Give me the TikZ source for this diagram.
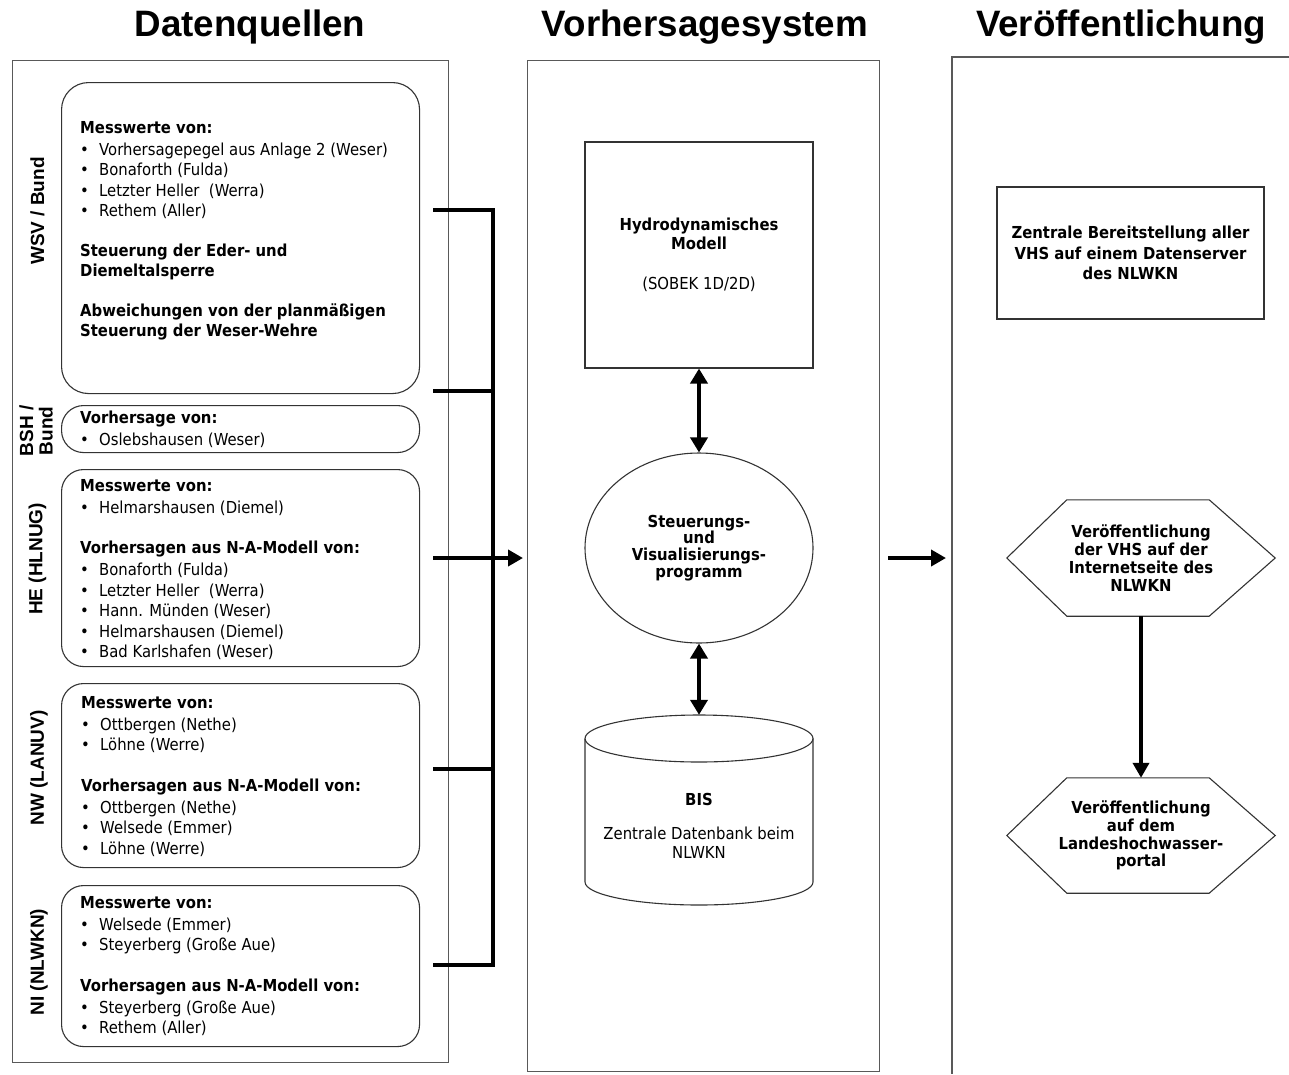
\documentclass[tikz,border=0pt]{standalone}
\usepackage{fontspec}
\usetikzlibrary{arrows.meta,shapes.geometric,calc}
\newfontfamily\bodyfam{DejaVu Sans}[FakeStretch=0.9]
\newfontfamily\headfam{Liberation Sans}
\newcommand\bodyf{\bodyfam\fontsize{16.5}{20.5}\selectfont}
\newcommand\hexf{\bodyfam\bfseries\fontsize{16.5}{17.8}\selectfont}
\newcommand\circf{\bodyfam\bfseries\fontsize{16.5}{16.8}\selectfont}
\newcommand\headf{\headfam\bfseries\fontsize{36.75}{40}\selectfont}
\newcommand\lblf{\headfam\bfseries\fontsize{19}{19.5}\selectfont}
\newcommand\itm{\makebox[19pt][l]{•}}
\newcommand\hd[1]{\textbf{#1}\\[1.5pt]}
\begin{document}
\begin{tikzpicture}[x=1pt,y=-1pt,
  panel/.style={draw=black!65, line width=1.2pt},
  box/.style={draw=black!80, line width=1.1pt},
  rbox/.style={box, rounded corners=22pt, anchor=north west, minimum width=358pt, inner sep=0pt},
  conn/.style={line width=3.8pt, -{Triangle[width=16pt,length=15pt]}},
  dconn/.style={line width=3.8pt, {Triangle[width=17pt,length=15pt]}-{Triangle[width=17pt,length=15pt]}},
  bracket/.style={line width=4pt, line join=miter},
  head/.style={font=\headf, anchor=base, inner sep=0pt},
  lbl/.style={font=\lblf, rotate=90, inner sep=0pt},
  btxt/.style={anchor=base west, inner sep=0pt, font=\bodyf},
]
\useasboundingbox (0,0) rectangle (1289,1074);

% headers
\node[head] (h1) at (250,36) {Datenquellen};
\node[head] (h2) at (705,36) {Vorhersagesystem};
\node[head] (h3) at (1121,36) {Veröffentlichung};

% panels
\node[panel, anchor=north west, minimum width=436pt, minimum height=1002pt, inner sep=0pt] (src) at (12,60) {};
\node[panel, anchor=north west, minimum width=352pt, minimum height=1011pt, inner sep=0pt] (mid) at (527,60) {};
\coordinate (pubtl) at (952,57);
\draw[panel] (1289,57) -- (pubtl) -- (952,1074);

% source boxes
\node[rbox, rounded corners=27pt, minimum height=311pt] (wsv) at (61,82) {};
\node[rbox, minimum height=47pt] (bsh) at (61,405) {};
\node[rbox, minimum height=197pt] (he) at (61,469) {};
\node[rbox, minimum height=184pt] (nw) at (61,683) {};
\node[rbox, minimum height=161pt] (ni) at (61,885) {};

% source labels
\node[lbl] (lwsv) at (37.5,211) {WSV / Bund};
\node[lbl, align=center] (lbsh) at (36,431) {BSH /\\Bund};
\node[lbl] (lhe) at (37.5,559) {HE (HLNUG)};
\node[lbl] (lnw) at (39,768) {NW (LANUV)};
\node[lbl] (lni) at (39,962) {NI (NLWKN)};

% source texts
\node[btxt] (twsv) at (80,133) {\parbox[t]{330pt}{\raggedright
  \hd{Messwerte von:}
  \itm Vorhersagepegel aus Anlage 2 (Weser)\\
  \itm Bonaforth (Fulda)\\
  \itm Letzter Heller~ (Werra)\\
  \itm Rethem (Aller)\\[19pt]
  \textbf{Steuerung der Eder- und}\\
  \textbf{Diemeltalsperre}\\[19pt]
  \textbf{Abweichungen von der planmäßigen}\\
  \textbf{Steuerung der Weser-Wehre}}};
\node[btxt] (tbsh) at (80,423) {\parbox[t]{330pt}{\raggedright
  \hd{Vorhersage von:}
  \itm Oslebshausen (Weser)}};
\node[btxt] (the) at (80,491) {\parbox[t]{330pt}{\raggedright
  \hd{Messwerte von:}
  \itm Helmarshausen (Diemel)\\[20pt]
  \hd{Vorhersagen aus N-A-Modell von:}
  \itm Bonaforth (Fulda)\\
  \itm Letzter Heller~ (Werra)\\
  \itm Hann. Münden (Weser)\\
  \itm Helmarshausen (Diemel)\\
  \itm Bad Karlshafen (Weser)}};
\node[btxt] (tnw) at (81,708) {\parbox[t]{330pt}{\raggedright
  \hd{Messwerte von:}
  \itm Ottbergen (Nethe)\\
  \itm Löhne (Werre)\\[20pt]
  \hd{Vorhersagen aus N-A-Modell von:}
  \itm Ottbergen (Nethe)\\
  \itm Welsede (Emmer)\\
  \itm Löhne (Werre)}};
\node[btxt] (tni) at (80,908) {\parbox[t]{330pt}{\raggedright
  \hd{Messwerte von:}
  \itm Welsede (Emmer)\\
  \itm Steyerberg (Große Aue)\\[20pt]
  \hd{Vorhersagen aus N-A-Modell von:}
  \itm Steyerberg (Große Aue)\\
  \itm Rethem (Aller)}};

% bracket
\coordinate (b1) at (433,210);
\coordinate (b2) at (433,391);
\coordinate (b3) at (433,558);
\coordinate (b4) at (433,769);
\coordinate (b5) at (433,965);
\coordinate (bv) at (493,558);
\draw[bracket] (b1) -- (b1 -| bv) -- (b5 -| bv) -- (b5);
\draw[bracket] (b2) -- (b2 -| bv);
\draw[bracket] (b4) -- (b4 -| bv);
\draw[conn, line width=4pt] (b3) -- ([xshift=-4pt]b3 -| mid.west);

% middle system
\node[box, minimum width=228pt, minimum height=226pt, inner sep=0pt, align=center, font=\bodyf]
  (hyd) at (699,255) {\textbf{Hydrodynamisches}\\[-1.5pt]\textbf{Modell}\\[19pt](SOBEK 1D/2D)};
\node[box, ellipse, minimum width=228pt, minimum height=190pt, inner sep=0pt, align=center, font=\circf]
  (ctl) at (699,548) {Steuerungs-\\und\\Visualisierungs-\\programm};
\node[minimum width=228pt, minimum height=190pt, inner sep=0pt] (bis) at (699,810) {};
\draw[box] (699,738.5) ellipse [x radius=114pt, y radius=23.5pt];
\draw[box] (585,738.5) -- (585,882) arc[start angle=180, end angle=360, x radius=114pt, y radius=23pt] -- (813,738.5);
\node[align=center, font=\bodyf, inner sep=0pt] (bistxt) at (699,826)
  {\textbf{BIS}\\[13pt]Zentrale Datenbank beim\\[-1pt]NLWKN};
\draw[dconn] (hyd.south) -- (ctl.north);
\draw[dconn] (ctl.south) -- (bis.north);

% arrow to publication
\draw[conn] ([xshift=8pt]mid.east |- b3) -- ([xshift=-6pt]pubtl |- b3);

% publication
\node[box, minimum width=267pt, minimum height=132pt, inner sep=0pt, align=center, font=\bodyf\bfseries]
  (zen) at (1130.5,253) {Zentrale Bereitstellung aller\\VHS auf einem Datenserver\\des NLWKN};
\node[minimum width=268pt, minimum height=116pt, inner sep=0pt, align=center, font=\hexf]
  (hx1) at (1141,558) {Veröffentlichung\\der VHS auf der\\Internetseite des\\NLWKN};
\node[minimum width=268pt, minimum height=115pt, inner sep=0pt, align=center, font=\hexf]
  (hx2) at (1141,835.5) {Veröffentlichung\\auf dem\\Landeshochwasser-\\portal};
\foreach \h in {hx1,hx2}{
  \draw[box] (\h.west) -- ($(\h.north west)+(60,0)$) -- ($(\h.north east)+(-66,0)$) -- (\h.east)
    -- ($(\h.south east)+(-66,0)$) -- ($(\h.south west)+(60,0)$) -- cycle;
}
\draw[conn] (hx1.south) -- (hx2.north);
\end{tikzpicture}
\end{document}
